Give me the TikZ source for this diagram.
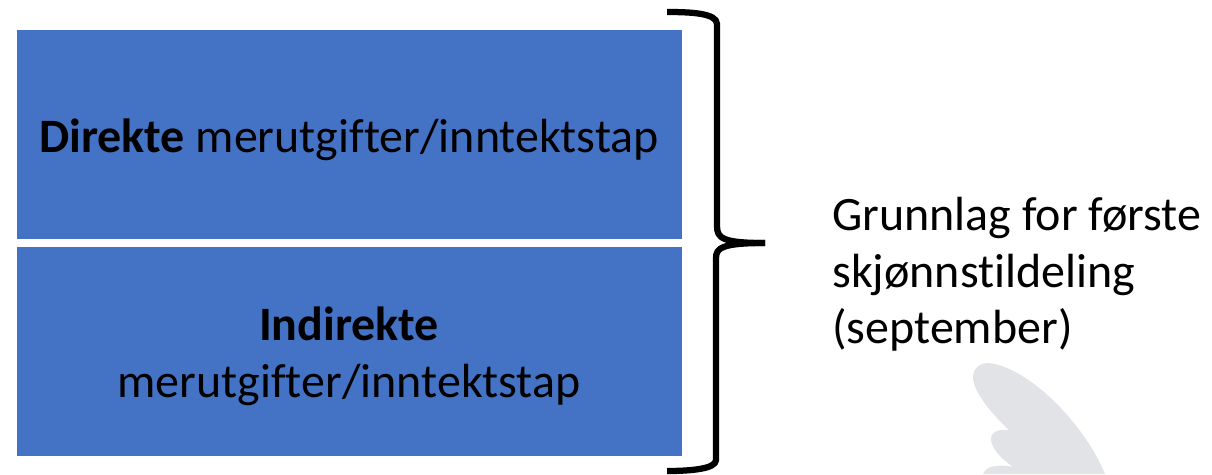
\documentclass[tikz,border=0pt]{standalone}
\usepackage{fontspec}
\setmainfont[Ligatures=NoCommon,Contextuals=NoAlternate]{Carlito}
\definecolor{boxblue}{HTML}{4472C4}
\definecolor{wing}{HTML}{E2E3E7}
\tikzset{
  x=0.02cm,y=-0.02cm,
  bluebox/.style={fill=boxblue,draw=none,minimum width=13.3cm,minimum height=4.18cm,inner sep=0pt,anchor=north west},
  boxtext/.style={anchor=north,inner sep=0pt,align=center,text=black,font=\fontsize{27.3pt}{32.4pt}\selectfont},
  sidetext/.style={anchor=north west,inner sep=0pt,align=left,text=black,font=\fontsize{27.3pt}{32.2pt}\selectfont},
  bracket/.style={line width=0.125cm,draw=black,line join=round}
}
\begin{document}
\begin{tikzpicture}
\useasboundingbox (0,0) rectangle (1212,474);
\begin{scope}
\clip (0,0) rectangle (1212,474);
\fill[wing] (973,377) .. controls (973,368) and (980,363) .. (989,363)
  .. controls (1030,368) and (1085,425) .. (1105,474)
  -- (983,474) .. controls (985,469) and (990,466) .. (997,466)
  .. controls (1003,465) and (1008,466) .. (1013,467)
  .. controls (1003,460) and (991,449) .. (991,439)
  .. controls (991,432) and (998,429) .. (1009,430)
  .. controls (995,417) and (973,393) .. (973,377) -- cycle;
\end{scope}
\node[bluebox] (direkte) at (17,30) {};
\node[bluebox] (indirekte) at (17,247) {};
\node[boxtext] (direktetxt) at (349,118) {\textbf{Direkte} merutgifter/inntektstap};
\node[boxtext] (indirektetxt) at (349,306.5) {\textbf{Indirekte}\\merutgifter/inntektstap};
\draw[bracket] (667,12) .. controls (690,12) and (717,13) .. (717,24)
  -- (717,226) .. controls (717,238) and (722,243) .. (765,243);
\draw[bracket] (765,243) .. controls (722,243) and (716,248) .. (716,258)
  -- (716,460) .. controls (716,469) and (690,471) .. (667,471);
\node[sidetext] (grunnlag) at (832,197) {Grunnlag for første\\skjønnstildeling\\(september)};
\end{tikzpicture}
\end{document}
